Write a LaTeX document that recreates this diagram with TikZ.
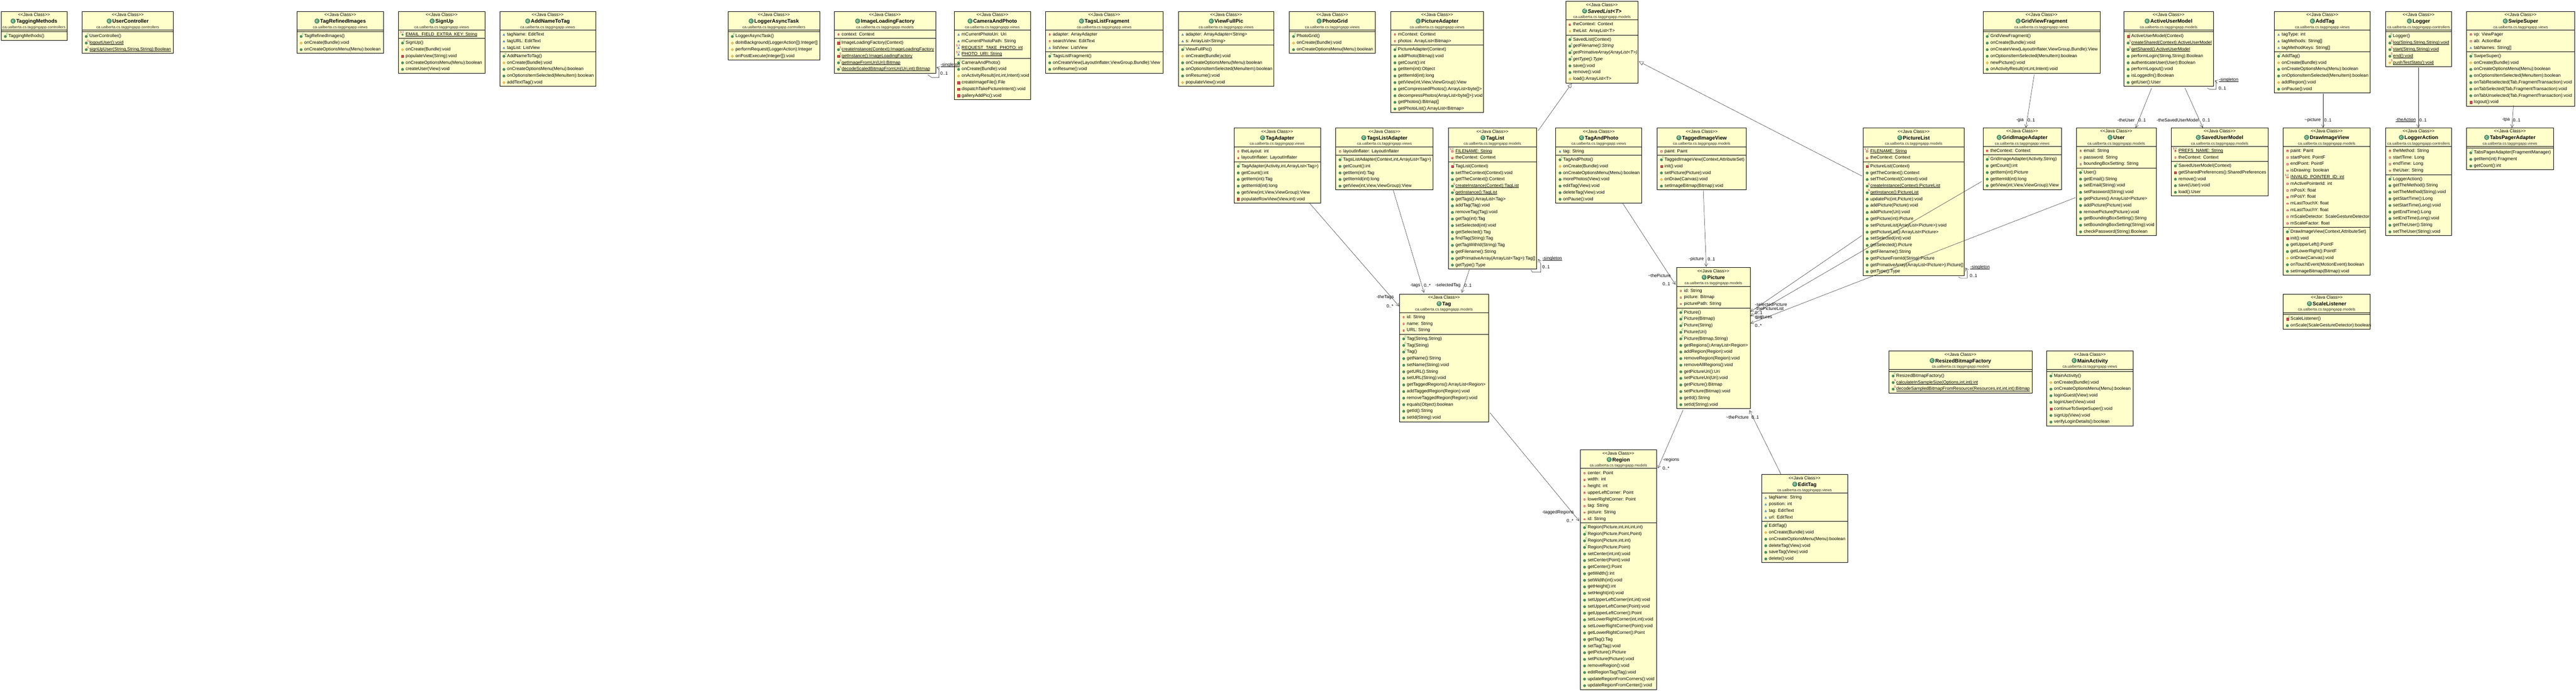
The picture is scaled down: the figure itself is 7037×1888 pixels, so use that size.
\documentclass[tikz,border=0pt]{standalone}
\usepackage{fontspec}
\setmainfont{Liberation Sans}
\usetikzlibrary{arrows.meta}
\definecolor{boxfill}{RGB}{255,255,204}
\definecolor{pubc}{RGB}{72,150,105}
\definecolor{proc}{RGB}{245,196,92}
\definecolor{proe}{RGB}{205,150,50}
\definecolor{pric}{RGB}{222,70,85}
\definecolor{pkgc}{RGB}{30,90,180}
\definecolor{ctorc}{RGB}{10,130,60}
\definecolor{statc}{RGB}{190,0,80}
\definecolor{finc}{RGB}{30,80,190}
\definecolor{pkgtext}{RGB}{45,45,45}
\newcount\mcnt
\newsavebox\ulbox
\newcommand\uln[1]{\sbox\ulbox{#1}\rlap{\rule[-1.7pt]{\wd\ulbox}{.9pt}}\usebox\ulbox}
\tikzset{
  cbox/.style={draw=black,fill=boxfill,line width=1pt,anchor=north west,inner sep=0pt,outer sep=0pt},
  divider/.style={draw=black,line width=1pt},
  stereo/.style={inner sep=0pt,anchor=base,font=\fontsize{12.05}{14}\selectfont},
  ttl/.style={inner sep=0pt,anchor=base,font=\fontsize{14.15}{16}\selectfont\bfseries},
  pkgname/.style={inner sep=0pt,anchor=base,text=pkgtext,font=\fontsize{10.5}{12}\selectfont},
  memb/.style={inner sep=0pt,anchor=base west,font=\fontsize{12.24}{14}\selectfont},
  mrkst/.style={inner sep=0pt,font=\fontsize{7.5}{8}\selectfont},
  lbl/.style={inner sep=0pt,font=\fontsize{12.24}{14}\selectfont},
  assoc/.style={draw=black!85,line width=.7pt,-{Straight Barb[length=8pt,width=9pt]}},
  gen/.style={draw=black!85,line width=.7pt,-{Triangle[open,fill=white,length=12pt,width=11pt]}},
}
% --- visibility icons
\newcommand\icpub[2]{\fill[pubc,draw=pubc!70!black,line width=.4pt] (#1,#2) circle (3.5);}
\newcommand\icpro[2]{\fill[proc,draw=proe,line width=.5pt] (#1-3.4,#2) -- (#1,#2-3.6) -- (#1+3.4,#2) -- (#1,#2+3.6) -- cycle;}
\newcommand\icpri[2]{\fill[pric,draw=pric!70!black,line width=.4pt] (#1-3,#2-3.4) rectangle (#1+3,#2+3.4);}
\newcommand\icfpri[2]{\fill[pric] (#1-2.6,#2-2.6) rectangle (#1+2.6,#2+2.6);\fill[white] (#1-1,#2-1) rectangle (#1+1,#2+1);}
\newcommand\icfpkg[2]{\fill[pkgc] (#1-3,#2+2.6) -- (#1,#2-3.2) -- (#1+3,#2+2.6) -- cycle;\fill[white] (#1-1.1,#2+1.5) -- (#1,#2-.8) -- (#1+1.1,#2+1.5) -- cycle;}
\newcommand\icfpro[2]{\fill[proc,draw=proe,line width=.4pt] (#1-2.4,#2) -- (#1,#2-3) -- (#1+2.4,#2) -- (#1,#2+3) -- cycle;}
\newcommand\icfpub[2]{\fill[pubc] (#1,#2) circle (2.8);}
% --- class box: id, x1, x2, top, nattr, nmeth, title, package
\newcommand\cl[8]{%
  \pgfmathsetmacro\tmpw{#3-#2}\pgfmathsetmacro\tmph{51+5+18*#5+5+18*#6}%
  \pgfmathsetmacro\tmpc{(#2+#3)/2}%
  \gdef\curx{#2}%
  \node[cbox,minimum width=\tmpw pt,minimum height=\tmph pt] (#1) at (#2,#4) {};
  \draw[divider] (#2,#4+51) -- (#3,#4+51);
  \draw[divider] (#2,#4+56+18*#5) -- (#3,#4+56+18*#5);
  \node[stereo] (#1s) at (\tmpc,#4+13.5) {<{}<Java Class>{}>};
  \node[ttl] (#1t) at (\tmpc,#4+32) {\hspace{15pt}#7};
  \fill[pubc,draw=pubc!70!black,line width=.5pt] ([shift={(6.5,-5.5)}]#1t.base west) circle (6.5);
  \node[mrkst,text=white,font=\fontsize{9}{9}\selectfont\bfseries] (#1c) at ([shift={(6.5,-5.5)}]#1t.base west) {C};
  \node[pkgname] (#1p) at (\tmpc,#4+46.5) {#8};
  \pgfmathsetmacro\tmpa{#4+51}\global\let\fldy\tmpa
  \pgfmathsetmacro\tmpb{#4+56+18*#5}\global\let\mtdy\tmpb
}
\newcommand\rowtext[2]{%
  \global\advance\mcnt 1
  \node[memb] (m\the\mcnt) at (\curx+20,#1+15.7) {#2};
}
\newcommand\icon[2]{\pgfmathsetmacro\tmpi{#2+12.7}\csname ic#1\endcsname{\curx+11.6}{\tmpi}}
\newcommand\nextf{\pgfmathsetmacro\tmpa{\fldy+18}\global\let\fldy\tmpa}
\newcommand\nextm{\pgfmathsetmacro\tmpb{\mtdy+18}\global\let\mtdy\tmpb}
\newcommand\mrk[4]{% letter, colour, dx, row y
  \global\advance\mcnt 1
  \node[mrkst,text=#2] (k\the\mcnt) at (\curx+#3,#4+6.8) {#1};
}
\newcommand\fld[2]{\icon{f#1}{\fldy}\rowtext{\fldy}{#2}\nextf}
\newcommand\fldS[2]{\icon{f#1}{\fldy}\mrk{S}{statc}{7}{\fldy}\mrk{F}{finc}{14}{\fldy}\rowtext{\fldy}{\uln{#2}}\nextf}
\newcommand\mtd[2]{\icon{#1}{\mtdy}\rowtext{\mtdy}{#2}\nextm}
\newcommand\mtdC[2]{\icon{#1}{\mtdy}\mrk{C}{ctorc}{16.6}{\mtdy}\rowtext{\mtdy}{#2}\nextm}
\newcommand\mtdS[2]{\icon{#1}{\mtdy}\mrk{S}{statc}{16.6}{\mtdy}\rowtext{\mtdy}{\uln{#2}}\nextm}
\newcommand\mtdA[2]{\icon{#1}{\mtdy}\mrk{A}{ctorc}{16.6}{\mtdy}\rowtext{\mtdy}{\itshape #2}\nextm}
\newcommand\pb[1]{\mtd{pub}{#1}}
\newcommand\pr[1]{\mtd{pro}{#1}}
\newcommand\pv[1]{\mtd{pri}{#1}}
\newcommand\ct[1]{\mtdC{pub}{#1}}
\newcommand\fv[1]{\fld{pri}{#1}}
\newcommand\fk[1]{\fld{pkg}{#1}}
\newcommand\lab[4]{\node[lbl] (#1) at (#2,#3) {#4};}
\newcommand\labw[4]{\node[lbl,anchor=west] (#1) at (#2,#3) {#4};}
\newcommand\nw[3]{([shift={(#2,#3)}]#1.north west)}
\newcommand\pviews{ca.ualberta.cs.taggingapp.views}
\newcommand\pmodels{ca.ualberta.cs.taggingapp.models}
\newcommand\pctrls{ca.ualberta.cs.taggingapp.controllers}
\begin{document}
\begin{tikzpicture}[x=1pt,y=-1pt]
\path[use as bounding box,fill=white] (0,0) rectangle (7037,1888);
% ---------- top row
\cl{TM}{3}{183}{31}{0}{1}{TaggingMethods}{\pctrls}
\ct{TaggingMethods()}
\cl{UC}{224}{474}{31}{0}{3}{UserController}{\pctrls}
\ct{UserController()}
\mtdS{pub}{logoutUser():void}
\mtdS{pub}{signUpUser(String,String,String):Boolean}
\cl{TRI}{811}{1048}{31}{0}{3}{TagRefinedImages}{\pviews}
\ct{TagRefinedImages()}\pr{onCreate(Bundle):void}\pb{onCreateOptionsMenu(Menu):boolean}
\cl{SU}{1088}{1325}{31}{1}{5}{SignUp}{\pviews}
\fldS{pub}{EMAIL\_FIELD\_EXTRA\_KEY: String}
\ct{SignUp()}\pr{onCreate(Bundle):void}\pv{populateView(String):void}\pb{onCreateOptionsMenu(Menu):boolean}\pb{createUser(View):void}
\cl{ANT}{1365}{1627}{31}{3}{5}{AddNameToTag}{\pviews}
\fk{tagName: EditText}\fk{tagURL: EditText}\fk{tagList: ListView}
\ct{AddNameToTag()}\pr{onCreate(Bundle):void}\pb{onCreateOptionsMenu(Menu):boolean}\pb{onOptionsItemSelected(MenuItem):boolean}\pr{addTextTag():void}
\cl{LAT}{1989}{2239}{31}{0}{4}{LoggerAsyncTask}{\pctrls}
\ct{LoggerAsyncTask()}\pr{doInBackground(LoggerAction[]):Integer[]}\pr{performRequest(LoggerAction):Integer}\pr{onPostExecute(Integer[]):void}
\cl{ILF}{2279}{2556}{31}{1}{5}{ImageLoadingFactory}{\pmodels}
\fv{context: Context}
\mtdC{pri}{ImageLoadingFactory(Context)}
\mtdS{pub}{createInstance(Context):ImageLoadingFactory}
\mtdS{pri}{getInstance():ImageLoadingFactory}
\mtdS{pub}{getImageFromUri(Uri):Bitmap}
\mtdS{pub}{decodeScaledBitmapFromUri(Uri,int):Bitmap}
\cl{CAP}{2607}{2815}{31}{4}{6}{CameraAndPhoto}{\pviews}
\fk{mCurrentPhotoUri: Uri}\fk{mCurrentPhotoPath: String}
\fldS{pkg}{REQUEST\_TAKE\_PHOTO: int}\fldS{pkg}{PHOTO\_URI: String}
\ct{CameraAndPhoto()}\pb{onCreate(Bundle):void}\pr{onActivityResult(int,int,Intent):void}\pv{createImageFile():File}\pv{dispatchTakePictureIntent():void}\pv{galleryAddPic():void}
\cl{TLF}{2856}{3177}{31}{3}{3}{TagsListFragment}{\pviews}
\fv{adapter: ArrayAdapter}\fv{searchView: EditText}\fk{listView: ListView}
\ct{TagsListFragment()}\pb{onCreateView(LayoutInflater,ViewGroup,Bundle):View}\pb{onResume():void}
\cl{VFP}{3219}{3480}{31}{2}{6}{ViewFullPic}{\pviews}
\fk{adapter: ArrayAdapter<String>}\fk{s: ArrayList<String>}
\ct{ViewFullPic()}\pr{onCreate(Bundle):void}\pb{onCreateOptionsMenu(Menu):boolean}\pb{onOptionsItemSelected(MenuItem):boolean}\pb{onResume():void}\pr{populateView():void}
\cl{PG}{3522}{3757}{31}{0}{3}{PhotoGrid}{\pviews}
\ct{PhotoGrid()}\pr{onCreate(Bundle):void}\pb{onCreateOptionsMenu(Menu):boolean}
\cl{PA}{3799}{4053}{31}{2}{10}{PictureAdapter}{\pviews}
\fv{mContext: Context}\fv{photos: ArrayList<Bitmap>}
\ct{PictureAdapter(Context)}\pb{addPhoto(Bitmap):void}\pb{getCount():int}\pb{getItem(int):Object}\pb{getItemId(int):long}\pb{getView(int,View,ViewGroup):View}\pb{getCompressedPhotos():ArrayList<byte[]>}\pb{decompressPhotos(ArrayList<byte[]>):void}\pb{getPhotos():Bitmap[]}\pb{getPhotoList():ArrayList<Bitmap>}
\cl{SL}{4277}{4475}{3.5}{2}{7}{{\itshape SavedList<T>}}{\pmodels}
\node[mrkst,text=white,font=\fontsize{6}{6}\selectfont\bfseries] (SLa) at ([shift={(10,-9.5)}]SLt.base west) {A};
\fv{theContext: Context}\fld{pro}{theList: ArrayList<T>}
\ct{SavedList(Context)}\mtdA{pub}{getFilename():String}\mtdA{pub}{getPrimativeArray(ArrayList<T>)}\mtdA{pub}{getType():Type}\pb{save():void}\pb{remove():void}\pr{load():ArrayList<T>}
\cl{GVF}{5417}{5737}{31}{0}{6}{GridViewFragment}{\pviews}
\ct{GridViewFragment()}\pb{onCreate(Bundle):void}\pb{onCreateView(LayoutInflater,ViewGroup,Bundle):View}\pb{onOptionsItemSelected(MenuItem):boolean}\pr{newPicture():void}\pb{onActivityResult(int,int,Intent):void}
\cl{AUM}{5802}{6046}{31}{0}{8}{ActiveUserModel}{\pmodels}
\mtdC{pri}{ActiveUserModel(Context)}\mtdS{pub}{createShared(Context):ActiveUserModel}\mtdS{pub}{getShared():ActiveUserModel}\pb{performLogin(String,String):Boolean}\pb{authenticateUser(User):Boolean}\pb{performLogout():void}\pb{isLoggedIn():Boolean}\pb{getUser():User}
\cl{AT}{6213}{6475}{31}{3}{6}{AddTag}{\pviews}
\fk{tagType: int}\fk{tagMethods: String[]}\fk{tagMethodKeys: String[]}
\ct{AddTag()}\pr{onCreate(Bundle):void}\pb{onCreateOptionsMenu(Menu):boolean}\pb{onOptionsItemSelected(MenuItem):boolean}\pr{addRegion():void}\pb{onPause():void}
\cl{LG}{6517}{6697}{31}{0}{5}{Logger}{\pctrls}
\ct{Logger()}\mtdS{pub}{log(String,String,String):void}\mtdS{pub}{start(String,String):void}\mtdS{pub}{end():void}\mtdS{pro}{pushTestStats():void}
\cl{SS}{6738}{7033}{31}{3}{8}{SwipeSuper}{\pviews}
\fv{vp: ViewPager}\fv{ab: ActionBar}\fk{tabNames: String[]}
\ct{SwipeSuper()}\pr{onCreate(Bundle):void}\pb{onCreateOptionsMenu(Menu):boolean}\pb{onOptionsItemSelected(MenuItem):boolean}\pb{onTabReselected(Tab,FragmentTransaction):void}\pb{onTabSelected(Tab,FragmentTransaction):void}\pb{onTabUnselected(Tab,FragmentTransaction):void}\pv{logout():void}
% ---------- second row
\cl{TA}{3371}{3607}{350}{2}{6}{TagAdapter}{\pviews}
\fv{theLayout: int}\fv{layoutInflater: LayoutInflater}
\ct{TagAdapter(Activity,int,ArrayList<Tag>)}\pb{getCount():int}\pb{getItem(int):Tag}\pb{getItemId(int):long}\pb{getView(int,View,ViewGroup):View}\pv{populateRowView(View,int):void}
\cl{TLA}{3649}{3915}{350}{1}{5}{TagsListAdapter}{\pviews}
\fv{layoutInflater: LayoutInflater}
\ct{TagsListAdapter(Context,int,ArrayList<Tag>)}\pb{getCount():int}\pb{getItem(int):Tag}\pb{getItemId(int):long}\pb{getView(int,View,ViewGroup):View}
\cl{TL}{3956}{4198}{350}{2}{16}{TagList}{\pmodels}
\fldS{pri}{FILENAME: String}\fv{theContext: Context}
\mtdC{pri}{TagList(Context)}\pb{setTheContext(Context):void}\pb{getTheContext():Context}\mtdS{pub}{createInstance(Context):TagList}\mtdS{pub}{getInstance():TagList}\pb{getTags():ArrayList<Tag>}\pb{addTag(Tag):void}\pb{removeTag(Tag):void}\pb{getTag(int):Tag}\pb{setSelected(int):void}\pb{getSelected():Tag}\pb{findTag(String):Tag}\pb{getTagWithId(String):Tag}\pb{getFilename():String}\pb{getPrimativeArray(ArrayList<Tag>):Tag[]}\pb{getType():Type}
\cl{TAP}{4250}{4485}{350}{1}{7}{TagAndPhoto}{\pviews}
\fk{tag: String}
\ct{TagAndPhoto()}\pr{onCreate(Bundle):void}\pb{onCreateOptionsMenu(Menu):boolean}\pb{morePhotos(View):void}\pb{editTag(View):void}\pb{deleteTag(View):void}\pb{onPause():void}
\cl{TIV}{4527}{4770}{350}{1}{5}{TaggedImageView}{\pmodels}
\fv{paint: Paint}
\ct{TaggedImageView(Context,AttributeSet)}\pv{init():void}\pb{setPicture(Picture):void}\pr{onDraw(Canvas):void}\pb{setImageBitmap(Bitmap):void}
\cl{PL}{5089}{5366}{350}{2}{17}{PictureList}{\pmodels}
\fldS{pri}{FILENAME: String}\fv{theContext: Context}
\mtdC{pri}{PictureList(Context)}\pb{getTheContext():Context}\pb{setTheContext(Context):void}\mtdS{pub}{createInstance(Context):PictureList}\mtdS{pub}{getInstance():PictureList}\pb{updatePic(int,Picture):void}\pb{addPicture(Picture):void}\pb{addPicture(Uri):void}\pb{getPicture(int):Picture}\pb{setPictureList(ArrayList<Picture>):void}\pb{getPictureList():ArrayList<Picture>}\pb{setSelected(int):void}\pb{getSelected():Picture}\pb{getFilename():String}\pb{getPictureFromId(String):Picture}\pb{getPrimativeArray(ArrayList<Picture>):Picture[]}\pb{getType():Type}
\cl{GIA}{5417}{5631}{349}{1}{5}{GridImageAdapter}{\pviews}
\fv{theContext: Context}
\ct{GridImageAdapter(Activity,String)}\pb{getCount():int}\pb{getItem(int):Picture}\pb{getItemId(int):long}\pb{getView(int,View,ViewGroup):View}
\cl{USR}{5672}{5890}{349}{3}{10}{User}{\pmodels}
\fv{email: String}\fv{password: String}\fv{boundingBoxSetting: String}
\ct{User()}\pb{getEmail():String}\pb{setEmail(String):void}\pb{setPassword(String):void}\pb{getPictures():ArrayList<Picture>}\pb{addPicture(Picture):void}\pb{removePicture(Picture):void}\pb{getBoundingBoxSetting():String}\pb{setBoundingBoxSetting(String):void}\pb{checkPassword(String):Boolean}
\cl{SUM}{5931}{6196}{349}{2}{5}{SavedUserModel}{\pmodels}
\fldS{pri}{PREFS\_NAME: String}\fv{theContext: Context}
\ct{SavedUserModel(Context)}\pv{getSharedPreferences():SharedPreferences}\pb{remove():void}\pb{save(User):void}\pb{load():User}
\cl{DIV}{6237}{6475}{349}{12}{7}{DrawImageView}{\pmodels}
\fv{paint: Paint}\fv{startPoint: PointF}\fv{endPoint: PointF}\fv{isDrawing: boolean}\fldS{pri}{INVALID\_POINTER\_ID: int}\fv{mActivePointerId: int}\fv{mPosX: float}\fv{mPosY: float}\fv{mLastTouchX: float}\fv{mLastTouchY: float}\fv{mScaleDetector: ScaleGestureDetector}\fv{mScaleFactor: float}
\ct{DrawImageView(Context,AttributeSet)}\pv{init():void}\pb{getUpperLeft():PointF}\pb{getLowerRight():PointF}\pr{onDraw(Canvas):void}\pb{onTouchEvent(MotionEvent):boolean}\pb{setImageBitmap(Bitmap):void}
\cl{SCL}{6237}{6475}{803.5}{0}{2}{ScaleListener}{\pmodels}
\mtdC{pri}{ScaleListener()}\pb{onScale(ScaleGestureDetector):boolean}
\cl{LA}{6517}{6697}{349}{4}{9}{LoggerAction}{\pctrls}
\fv{theMethod: String}\fv{startTime: Long}\fv{endTime: Long}\fv{theUser: String}
\ct{LoggerAction()}\pb{getTheMethod():String}\pb{setTheMethod(String):void}\pb{getStartTime():Long}\pb{setStartTime(Long):void}\pb{getEndTime():Long}\pb{setEndTime(Long):void}\pb{getTheUser():String}\pb{setTheUser(String):void}
\cl{TPA}{6738}{6975}{349}{0}{3}{TabsPagerAdapter}{\pviews}
\ct{TabsPagerAdapter(FragmentManager)}\pb{getItem(int):Fragment}\pb{getCount():int}
% ---------- lower classes
\cl{PIC}{4580}{4781}{731.5}{3}{15}{Picture}{\pmodels}
\fv{id: String}\fv{picture: Bitmap}\fv{picturePath: String}
\ct{Picture()}\ct{Picture(Bitmap)}\ct{Picture(String)}\ct{Picture(Uri)}\ct{Picture(Bitmap,String)}\pb{getRegions():ArrayList<Region>}\pb{addRegion(Region):void}\pb{removeRegion(Region):void}\pb{removeAllRegions():void}\pb{getPictureUri():Uri}\pb{setPictureUri(Uri):void}\pb{getPicture():Bitmap}\pb{setPicture(Bitmap):void}\pb{getId():String}\pb{setId(String):void}
\cl{TG}{3823}{4066}{803.5}{3}{13}{Tag}{\pmodels}
\fv{id: String}\fv{name: String}\fv{URL: String}
\ct{Tag(String,String)}\ct{Tag(String)}\ct{Tag()}\pb{getName():String}\pb{setName(String):void}\pb{getURL():String}\pb{setURL(String):void}\pb{getTaggedRegions():ArrayList<Region>}\pb{addTaggedRegion(Region):void}\pb{removeTaggedRegion(Region):void}\pb{equals(Object):boolean}\pb{getId():String}\pb{setId(String):void}
\cl{RG}{4317}{4525}{1229.5}{8}{25}{Region}{\pmodels}
\fv{center: Point}\fv{width: int}\fv{height: int}\fv{upperLeftCorner: Point}\fv{lowerRightCorner: Point}\fv{tag: String}\fv{picture: String}\fv{id: String}
\ct{Region(Picture,int,int,int,int)}\ct{Region(Picture,Point,Point)}\ct{Region(Picture,int,int)}\ct{Region(Picture,Point)}\pb{setCenter(int,int):void}\pb{setCenter(Point):void}\pb{getCenter():Point}\pb{getWidth():int}\pb{setWidth(int):void}\pb{getHeight():int}\pb{setHeight(int):void}\pb{setUpperLeftCorner(int,int):void}\pb{setUpperLeftCorner(Point):void}\pb{getUpperLeftCorner():Point}\pb{setLowerRightCorner(int,int):void}\pb{setLowerRightCorner(Point):void}\pb{getLowerRightCorner():Point}\pb{getTag():Tag}\pb{setTag(Tag):void}\pb{getPicture():Picture}\pb{setPicture(Picture):void}\pb{removeRegion():void}\pb{editRegionTag(Tag):void}\pb{updateRegionFromCorners():void}\pb{updateRegionFromCenter():void}
\cl{ET}{4812}{5047}{1297}{4}{6}{EditTag}{\pviews}
\fk{tagName: String}\fk{position: int}\fk{tag: EditText}\fk{url: EditText}
\ct{EditTag()}\pr{onCreate(Bundle):void}\pb{onCreateOptionsMenu(Menu):boolean}\pb{deleteTag(View):void}\pb{saveTag(View):void}\pb{delete():void}
\cl{RBF}{5160}{5551}{959}{0}{3}{ResizedBitmapFactory}{\pmodels}
\ct{ResizedBitmapFactory()}\mtdS{pub}{calculateInSampleSize(Options,int,int):int}\mtdS{pub}{decodeSampledBitmapFromResource(Resources,int,int,int):Bitmap}
\cl{MA}{5591}{5827}{959}{0}{8}{MainActivity}{\pviews}
\ct{MainActivity()}\pr{onCreate(Bundle):void}\pb{onCreateOptionsMenu(Menu):boolean}\pb{loginGuest(View):void}\pb{loginUser(View):void}\pv{continueToSwipeSuper():void}\pb{signUp(View):void}\pb{verifyLoginDetails():boolean}
% ---------- connectors
\draw[assoc] \nw{ILF}{255}{173} -- ++(11,8) -- ++(20,0) -- ++(0,-26) -- \nw{ILF}{279}{153};
\draw[assoc] \nw{AUM}{228}{210} -- ++(6,3) -- ++(18,0) -- ++(0,-22) -- \nw{AUM}{248}{189.7};
\draw[assoc] \nw{TL}{226}{387} -- ++(4,7) -- ++(23,0) -- ++(0,-23) -- \nw{TL}{246}{358};
\draw[assoc] \nw{PL}{261}{407} -- ++(5,3) -- ++(19,0) -- ++(0,-20) -- \nw{PL}{280}{382};
\draw[assoc] \nw{GVF}{140}{173} -- \nw{GIA}{117}{0};
\draw[assoc] \nw{AUM}{75.5}{210} -- \nw{USR}{162}{0};
\draw[assoc] \nw{AUM}{167}{210} -- \nw{SUM}{86.6}{0};
\draw[assoc] \nw{AT}{133}{225} -- \nw{DIV}{109}{0};
\draw[assoc] \nw{LG}{89}{153} -- \nw{LA}{89}{0};
\draw[assoc] \nw{SS}{128}{257} -- \nw{TPA}{124}{0};
\draw[assoc] \nw{TA}{207}{206} -- \nw{TG}{-1}{33.5};
\draw[assoc] \nw{TLA}{157}{170} -- \nw{TG}{67}{-3.5};
\draw[assoc] \nw{TL}{58}{386.5} -- \nw{TG}{170}{-3.5};
\draw[gen] \nw{TL}{246}{7} -- \nw{SL}{16.5}{224.5};
\draw[gen] \nw{PL}{-3}{131} -- \nw{SL}{200}{164.5};
\draw[assoc] \nw{TAP}{183}{206} -- \nw{PIC}{-3}{46.5};
\draw[assoc] \nw{TIV}{126}{170} -- \nw{PIC}{81}{-2.5};
\draw[assoc] \nw{PIC}{17.5}{389.5} -- \nw{RG}{211.6}{50.5};
\draw[assoc] \nw{TG}{247}{324.5} -- \nw{RG}{-3}{194.5};
\draw[assoc] \nw{ET}{53}{-1} -- \nw{PIC}{199}{390};
\draw[assoc] \nw{PL}{-3}{294} -- \nw{PIC}{202}{120.5};
\draw[assoc] \nw{GIA}{-3.5}{147} -- \nw{PIC}{202}{132.5};
\draw[assoc] \nw{USR}{-2}{191} -- \nw{PIC}{202}{152.5};
% ---------- connector labels
\lab{l1}{2596}{177}{\uln{-singleton}}\lab{l2}{2579}{200}{0..1}
\lab{l3}{6088}{219}{\uln{-singleton}}\lab{l4}{6071}{242}{0..1}
\lab{l5}{4240}{707}{\uln{-singleton}}\lab{l6}{4223.5}{730}{0..1}
\lab{l7}{5409}{731}{\uln{-singleton}}\lab{l8}{5391}{753.6}{0..1}
\lab{l9}{5518}{328}{-gia}\lab{l10}{5549}{329}{0..1}
\lab{l11}{5808}{328}{-theUser}\lab{l12}{5852}{329}{0..1}
\lab{l13}{5949}{328}{-theSavedUserModel}\lab{l14}{6027}{329}{0..1}
\lab{l15}{6317.5}{328}{\textasciitilde picture}\lab{l16}{6359}{329}{0..1}
\lab{l17}{6572}{328}{\uln{-theAction}}\lab{l18}{6619}{329}{0..1}
\lab{l19}{6845.5}{328}{-tpa}\lab{l20}{6875}{329}{0..1}
\lab{l21}{3784}{813}{-theTags}\lab{l22}{3797}{836}{0..*}
\lab{l23}{3866}{780}{-tags}\lab{l24}{3899}{781}{0..*}
\lab{l25}{3955}{780}{-selectedTag}\lab{l26}{4010}{781}{0..1}
\lab{l27}{4533}{753}{\textasciitilde thePicture}\lab{l28}{4552}{776}{0..1}
\lab{l29}{4634}{708}{-picture}\lab{l30}{4675}{709}{0..1}
\lab{l31}{4565}{1257}{-regions}\lab{l32}{4551}{1280}{0..*}
\lab{l33}{4256}{1401}{-taggedRegions}\lab{l34}{4289}{1424}{0..*}
\lab{l35}{4746}{1140}{\textasciitilde thePicture}\lab{l36}{4795}{1140}{0..1}
\labw{l37}{4794}{832}{-selectedPicture}\labw{l38}{4794}{855}{0..1}
\labw{l39}{4794}{844}{-thePictureList}\labw{l40}{4794}{867}{0..1}
\labw{l41}{4794}{867}{-pictures}\labw{l42}{4794}{890}{0..*}
\end{tikzpicture}
\end{document}
